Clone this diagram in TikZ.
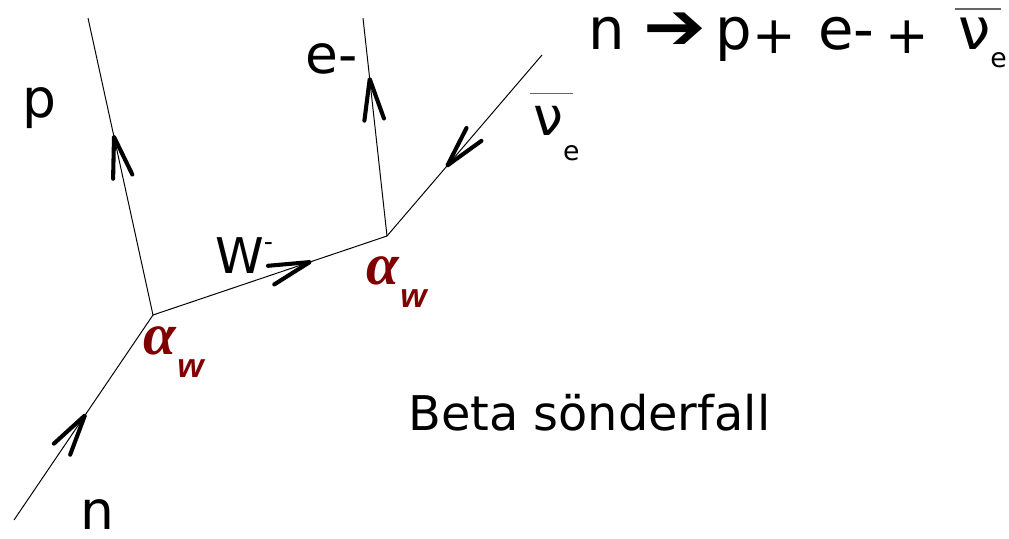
\documentclass[tikz,border=0pt]{standalone}
\usepackage{fontspec}
\setmainfont{DejaVu Sans}
\newfontfamily\alfont{Liberation Serif}
\newfontfamily\wfont{Liberation Sans}
\usepackage{xcolor}
\usepackage{graphicx}
\usepackage{tikz}
\usetikzlibrary{
  positioning,
  decorations.markings
}
\definecolor{coupling}{HTML}{800000}
\definecolor{bargrey}{HTML}{666666}
% #1 = bar height, #2 = drop of the subscript
\newcommand{\nubar}[2]{\leavevmode\rlap{\kern-0.06em\raisebox{#1}{\color{bargrey}\rule{0.8em}{0.035em}}}ν\raisebox{-#2}{\fontsize{19}{19}\selectfont e}}
\newcommand{\alphaw}{{\alfont\bfseries\itshape α}\kern1pt\raisebox{-17pt}{\fontsize{24}{24}\wfont\bfseries\itshape\selectfont w}}
\tikzset{
  particle/.style={
    anchor=base west, inner sep=0pt, font=\fontsize{38}{38}\selectfont
  },
  eqtext/.style={
    anchor=base west, inner sep=0pt, font=\fontsize{41}{41}\selectfont
  },
  eqplus/.style={
    anchor=base, inner sep=0pt, font=\fontsize{37}{37}\selectfont
  },
  couplabel/.style={
    anchor=base west, inner sep=0pt, color=coupling,
    font=\fontsize{42}{42}\selectfont
  },
  propline/.style={
    line width=0.7pt
  },
  fermion/.style={
    propline,
    decoration={markings, mark=at position #1 with {
      \draw[line width=2.9pt, line cap=round, line join=round]
        (-29pt,7pt) -- (0pt,0pt) -- (-29pt,-7pt);}},
    postaction=decorate
  },
}
\begin{document}
\begin{tikzpicture}[x=0.025cm, y=-0.025cm]
  \useasboundingbox (0,0) rectangle (1009,539);

  %% Vertices and free ends
  \coordinate (v1) at (153,315);
  \coordinate (v2) at (387,236);
  \coordinate (nin) at (14,520);
  \coordinate (pout) at (88,18);
  \coordinate (eout) at (363,18);
  \coordinate (nuin) at (542,55);

  %% Lines
  \draw[fermion=0.51] (nin) -- (v1);
  \draw[fermion=0.6] (v1) -- (pout);
  \draw[fermion=0.67] (v1) -- (v2);
  \draw[fermion=0.72] (v2) -- (eout);
  \draw[fermion=0.61] (nuin) -- (v2);

  %% Particle labels
  \node[particle] (plab) at (22,117) {p};
  \node[particle] (nlab) at (80,529) {n};
  \node[particle] (elab) at (305,73) {e-};
  \node[particle] (nulab) at (533,135) {\nubar{0.76em}{17.8pt}};
  \node[anchor=base west, inner sep=0pt, font=\fontsize{35}{35}\selectfont]
    (wlab) at (215,273) {W\raisebox{16pt}{\fontsize{18}{18}\selectfont -}};

  %% Couplings
  \node[couplabel] (alow) at (143,354) {\alphaw};
  \node[couplabel] (ahigh) at (366,284) {\alphaw};

  %% Reaction
  \node[eqtext] (eqn) at (588,50) {n};
  \node[eqtext] (eqarrow) at (643,50) {\scalebox{1.3}[1.15]{➔}};
  \node[eqtext] (eqp) at (715,50) {p};
  \node[eqplus] (eqplusa) at (774,53) {+};
  \node[eqtext] (eqe) at (818,50) {e-};
  \node[eqplus] (eqplusb) at (907,53) {+};
  \node[eqtext] (eqnu) at (958,50) {\nubar{0.7em}{12.8pt}};

  %% Title
  \node[anchor=base west, inner sep=0pt, font=\fontsize{34}{34}\selectfont]
    (title) at (408,430) {Beta sönderfall};

\end{tikzpicture}
\end{document}
